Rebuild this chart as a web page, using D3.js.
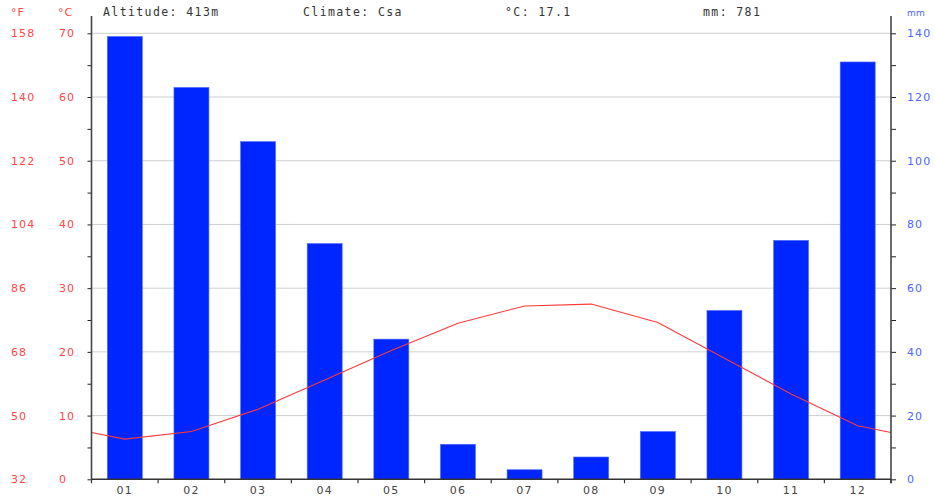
<!DOCTYPE html>
<html>
<head>
<meta charset="utf-8">
<script src="https://cdn.jsdelivr.net/npm/d3@7"></script>
<style>
  body { margin: 0; background: #fff; }
  svg text { font-family: "DejaVu Sans", sans-serif; }
  svg text.mono { font-family: "DejaVu Sans Mono", monospace; }
</style>
</head>
<body>
<div id="chart"></div>
<script>
var W = 935, H = 496;
var m = {t:33.3, r:44, b:16.7, l:91.5};

// data
var months = ["01","02","03","04","05","06","07","08","09","10","11","12"];
var precip = [139, 123, 106, 74, 44, 11, 3, 7, 15, 53, 75, 131];   // mm
var temp = [6.3, 7.5, 11.0, 15.6, 20.2, 24.5, 27.2, 27.5, 24.6, 19.0, 13.4, 8.4]; // °C
var header = [
  {label: "Altitude: 413m", x: 103},
  {label: "Climate: Csa", x: 303},
  {label: "°C: 17.1", x: 505},
  {label: "mm: 781", x: 703}
];
var tempTicks = [0, 10, 20, 30, 40, 50, 60, 70];
var precipTicks = [0, 20, 40, 60, 80, 100, 120, 140];

var svg = d3.select("#chart").append("svg")
  .attr("width", W).attr("height", H);

var x0 = m.l, x1 = W - m.r, y0 = H - m.b, y1 = m.t;

var xFull = d3.scaleBand().domain(months).range([x0, x1]);
var x = d3.scaleBand().domain(months).range([x0, x1])
  .paddingInner(0.475).paddingOuter(0.2375);
var yT = d3.scaleLinear().domain([0, 70]).range([y0, y1]);
var yP = d3.scaleLinear().domain([0, 140]).range([y0, y1]);

// grid
svg.append("g").selectAll("line")
  .data(tempTicks.filter(function(d){ return d > 0; }))
  .enter().append("line")
  .attr("x1", x0).attr("x2", x1)
  .attr("y1", function(d){ return yT(d); })
  .attr("y2", function(d){ return yT(d); })
  .attr("stroke", "#cfcfcf").attr("stroke-width", 1);

// bars
svg.append("g").selectAll("rect")
  .data(precip).enter().append("rect")
  .attr("x", function(d, i){ return x(months[i]); })
  .attr("width", x.bandwidth())
  .attr("y", function(d){ return yP(d); })
  .attr("height", function(d){ return y0 - yP(d); })
  .attr("fill", "#0026ff")
  .attr("stroke", "#4d6bff").attr("stroke-width", 0.6);

// temperature line, wrapped to the plot edges
var edge = (temp[0] + temp[11]) / 2;
var pts = [[x0, edge]];
temp.forEach(function(t, i){ pts.push([xFull(months[i]) + xFull.bandwidth()/2, t]); });
pts.push([x1, edge]);

svg.append("path")
  .datum(pts)
  .attr("fill", "none")
  .attr("stroke", "#ff3838").attr("stroke-width", 1.1)
  .attr("d", d3.line()
    .x(function(d){ return d[0]; })
    .y(function(d){ return yT(d[1]); }));

// left axis
var leftAx = svg.append("g")
  .attr("transform", "translate(" + x0 + ",0)")
  .call(d3.axisLeft(yT).tickValues(d3.range(0, 71, 5)).tickSize(4).tickFormat(""));
leftAx.select(".domain").remove();
leftAx.selectAll("line").attr("stroke", "#222");
svg.append("line").attr("x1", x0).attr("x2", x0).attr("y1", 16).attr("y2", y0)
  .attr("stroke", "#444").attr("stroke-width", 1.6);

// right axis
var rightAx = svg.append("g")
  .attr("transform", "translate(" + x1 + ",0)")
  .call(d3.axisRight(yP).tickValues(d3.range(0, 141, 10)).tickSize(5).tickFormat(""));
rightAx.select(".domain").remove();
rightAx.selectAll("line").attr("stroke", "#222");
svg.append("line").attr("x1", x1).attr("x2", x1).attr("y1", 16).attr("y2", y0 + 4)
  .attr("stroke", "#444").attr("stroke-width", 1.6);

// x axis
svg.append("line").attr("x1", x0).attr("x2", x1).attr("y1", y0).attr("y2", y0)
  .attr("stroke", "#333").attr("stroke-width", 1.6);
svg.append("g").selectAll("line")
  .data(months.concat(["end"])).enter().append("line")
  .attr("x1", function(d){ return d === "end" ? x1 : xFull(d); })
  .attr("x2", function(d){ return d === "end" ? x1 : xFull(d); })
  .attr("y1", y0).attr("y2", y0 + 4)
  .attr("stroke", "#333").attr("stroke-width", 1.2);
svg.append("g").selectAll("text")
  .data(months).enter().append("text")
  .attr("x", function(d){ return xFull(d) + xFull.bandwidth()/2; })
  .attr("y", y0 + 14.5)
  .attr("text-anchor", "middle")
  .attr("font-size", 11).attr("letter-spacing", 1.2)
  .attr("fill", "#444")
  .text(function(d){ return d; });

// left labels: °F and °C
var lab = svg.append("g").attr("font-size", 11).attr("letter-spacing", 1.1).attr("fill", "#ff4747");
lab.selectAll(".f").data(tempTicks).enter().append("text")
  .attr("x", 11).attr("y", function(d){ return yT(d) + 4; })
  .text(function(d){ return Math.round(d * 1.8 + 32); });
lab.selectAll(".c").data(tempTicks).enter().append("text")
  .attr("x", 59).attr("y", function(d){ return yT(d) + 4; })
  .text(function(d){ return d; });
lab.append("text").attr("x", 11).attr("y", 16).text("°F");
lab.append("text").attr("x", 58).attr("y", 16).text("°C");

// right labels
var rlab = svg.append("g").attr("font-size", 11).attr("letter-spacing", 1.1).attr("fill", "#4a66ff");
rlab.selectAll("text.p").data(precipTicks).enter().append("text")
  .attr("x", 907).attr("y", function(d){ return yP(d) + 4; })
  .text(function(d){ return d; });
rlab.append("text").attr("x", 907).attr("y", 16).attr("font-size", 9).attr("letter-spacing", 0.3).text("mm");

// header
svg.append("g").selectAll("text")
  .data(header).enter().append("text")
  .attr("class", "mono")
  .attr("x", function(d){ return d.x; })
  .attr("y", 16)
  .attr("font-size", 11.5).attr("letter-spacing", 1.4)
  .attr("fill", "#333")
  .text(function(d){ return d.label; });
</script>
</body>
</html>
